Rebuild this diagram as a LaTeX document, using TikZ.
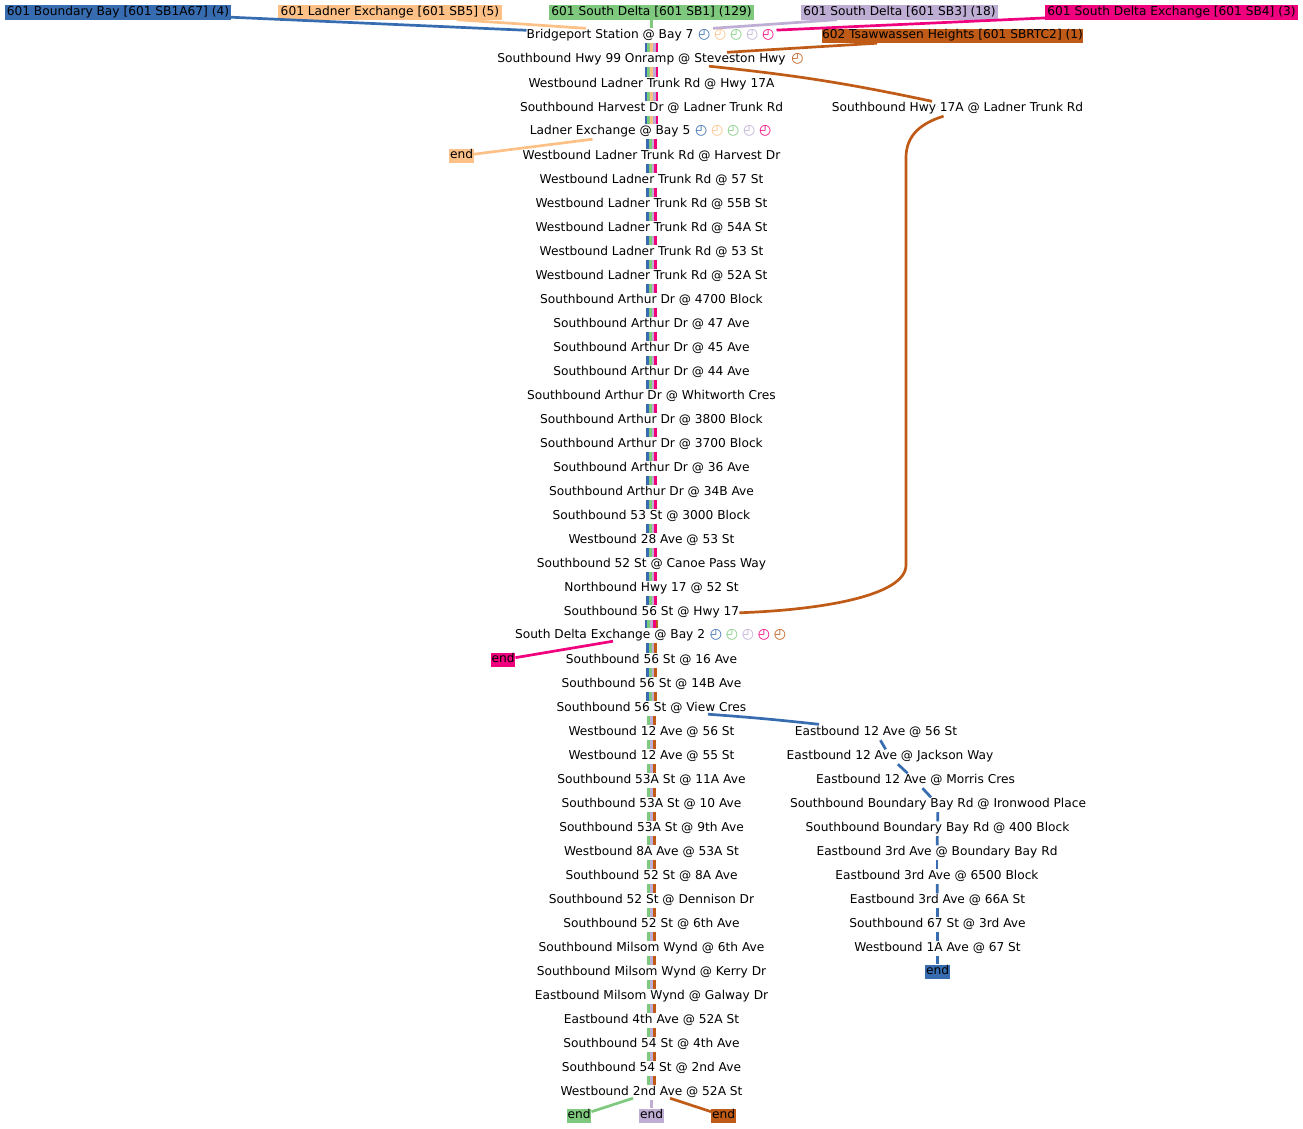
\documentclass[tikz,border=0pt]{standalone}
\usepackage{fontspec}
\setmainfont{DejaVu Sans}
\definecolor{routeblue}{HTML}{386CB0}
\definecolor{routegreen}{HTML}{7FC97F}
\definecolor{routepeach}{HTML}{FDC086}
\definecolor{routepurple}{HTML}{BEAED4}
\definecolor{routepink}{HTML}{F0027F}
\definecolor{routebrown}{HTML}{BF5B17}
\newcommand{\clockmark}[1]{\makebox[16pt]{\textcolor{#1}{\fontsize{14pt}{14pt}\selectfont ◴}}}
\newcommand{\clocksbay}{\hspace{-1pt}\clockmark{routeblue}\clockmark{routepeach}\clockmark{routegreen}\clockmark{routepurple}\clockmark{routepink}}
\newcommand{\clocksdelta}{\hspace{-1pt}\clockmark{routeblue}\clockmark{routegreen}\clockmark{routepurple}\clockmark{routepink}\clockmark{routebrown}}
\tikzset{
  stopbox/.style = {inner xsep = 0pt, inner ysep = 0pt, text height = 10pt, text depth = 4.5pt, font = \fontsize{12.2pt}{14pt}\selectfont},
  routebox/.style = {stopbox, fill = #1},
  endbox/.style = {routebox = #1, minimum width = 24.5pt},
  routeline/.style = {line width = 2.7pt, draw = #1},
  stripe/.style = {line width = 2.7pt, draw = #1}
}
\newcommand{\trunkpart}[4]{
  \foreach \c [count = \n] in {#4} {
    \pgfmathsetmacro{\dx}{(\n-(#3+1)/2)*2.7}
    \draw[stripe = \c] ([xshift = \dx pt]#1.south) -- ([xshift = \dx pt]#2.north);
  }
}
\begin{document}
\begin{tikzpicture}[x = 1pt, y = 1pt]
        \useasboundingbox (0,0) rectangle (1303,-1128);
        \foreach \y/\txt [count = \i] in {
            34/{Bridgeport Station @ Bay 7 \clocksbay},
            58/{Southbound Hwy 99 Onramp @ Steveston Hwy \clockmark{routebrown}},
            83/Westbound Ladner Trunk Rd @ Hwy 17A,
            107/Southbound Harvest Dr @ Ladner Trunk Rd,
            130/{Ladner Exchange @ Bay 5 \clocksbay},
            155/Westbound Ladner Trunk Rd @ Harvest Dr,
            179/Westbound Ladner Trunk Rd @ 57 St,
            203/Westbound Ladner Trunk Rd @ 55B St,
            227/Westbound Ladner Trunk Rd @ 54A St,
            251/Westbound Ladner Trunk Rd @ 53 St,
            275/Westbound Ladner Trunk Rd @ 52A St,
            299/Southbound Arthur Dr @ 4700 Block,
            323/Southbound Arthur Dr @ 47 Ave,
            347/Southbound Arthur Dr @ 45 Ave,
            371/Southbound Arthur Dr @ 44 Ave,
            395/Southbound Arthur Dr @ Whitworth Cres,
            419/Southbound Arthur Dr @ 3800 Block,
            443/Southbound Arthur Dr @ 3700 Block,
            467/Southbound Arthur Dr @ 36 Ave,
            491/Southbound Arthur Dr @ 34B Ave,
            515/Southbound 53 St @ 3000 Block,
            539/Westbound 28 Ave @ 53 St,
            563/Southbound 52 St @ Canoe Pass Way,
            587/Northbound Hwy 17 @ 52 St,
            611/Southbound 56 St @ Hwy 17,
            634/{South Delta Exchange @ Bay 2 \clocksdelta},
            659/Southbound 56 St @ 16 Ave,
            683/Southbound 56 St @ 14B Ave,
            707/Southbound 56 St @ View Cres,
            731/Westbound 12 Ave @ 56 St,
            755/Westbound 12 Ave @ 55 St,
            779/Southbound 53A St @ 11A Ave,
            803/Southbound 53A St @ 10 Ave,
            827/Southbound 53A St @ 9th Ave,
            851/Westbound 8A Ave @ 53A St,
            875/Southbound 52 St @ 8A Ave,
            899/Southbound 52 St @ Dennison Dr,
            923/Southbound 52 St @ 6th Ave,
            947/Southbound Milsom Wynd @ 6th Ave,
            971/Southbound Milsom Wynd @ Kerry Dr,
            995/Eastbound Milsom Wynd @ Galway Dr,
            1019/Eastbound 4th Ave @ 52A St,
            1043/Southbound 54 St @ 4th Ave,
            1067/Southbound 54 St @ 2nd Ave,
            1091/Westbound 2nd Ave @ 52A St} {
          \node[stopbox] (stop\i) at (651.5,-\y-1.75) {\txt};
        }
        \foreach \x/\y/\txt [count = \i] in {
            876/731/Eastbound 12 Ave @ 56 St,
            890/755/Eastbound 12 Ave @ Jackson Way,
            915.5/779/Eastbound 12 Ave @ Morris Cres,
            938/803/Southbound Boundary Bay Rd @ Ironwood Place,
            937.5/827/Southbound Boundary Bay Rd @ 400 Block,
            937/851/Eastbound 3rd Ave @ Boundary Bay Rd,
            937/875/Eastbound 3rd Ave @ 6500 Block,
            937.5/899/Eastbound 3rd Ave @ 66A St,
            937.5/923/Southbound 67 St @ 3rd Ave,
            937.5/947/Westbound 1A Ave @ 67 St} {
          \node[stopbox] (east\i) at (\x,-\y-1.75) {\txt};
        }
        \node[stopbox] (hwyspur) at (957.5,-108.75) {Southbound Hwy 17A @ Ladner Trunk Rd};
        \node[routebox = routeblue, minimum width = 226pt] (routeboundary) at (118,-12.25) {601 Boundary Bay [601 SB1A67] (4)};
        \node[routebox = routepeach, minimum width = 224pt] (routeladner) at (390,-12.25) {601 Ladner Exchange [601 SB5] (5)};
        \node[routebox = routegreen, minimum width = 205pt] (routesbone) at (651.5,-12.25) {601 South Delta [601 SB1] (129)};
        \node[routebox = routepurple, minimum width = 197pt] (routesbthree) at (899.5,-12.25) {601 South Delta [601 SB3] (18)};
        \node[routebox = routepink, minimum width = 253pt] (routesbfour) at (1171.5,-12.25) {601 South Delta Exchange [601 SB4] (3)};
        \node[routebox = routebrown, minimum width = 261pt] (routetsa) at (952.5,-35.75) {602 Tsawwassen Heights [601 SBRTC2] (1)};
        \node[endbox = routepeach] (endladner) at (461.5,-155.75) {end};
        \node[endbox = routepink] (endexchange) at (503,-659.75) {end};
        \node[endbox = routeblue] (endeast) at (937.5,-971.75) {end};
        \node[endbox = routegreen] (endsbone) at (579,-1115.75) {end};
        \node[endbox = routepurple] (endsbthree) at (651.5,-1115.75) {end};
        \node[endbox = routebrown] (endtsa) at (723.5,-1115.75) {end};
        \foreach \i [evaluate = \i as \j using int(\i+1)] in {1,...,4} {
          \trunkpart{stop\i}{stop\j}{5}{routeblue,routegreen,routepeach,routepurple,routepink}
        }
        \foreach \i [evaluate = \i as \j using int(\i+1)] in {5,...,24} {
          \trunkpart{stop\i}{stop\j}{4}{routeblue,routegreen,routepurple,routepink}
        }
        \trunkpart{stop25}{stop26}{5}{routeblue,routegreen,routepurple,routepink,routebrown}
        \foreach \i [evaluate = \i as \j using int(\i+1)] in {26,27,28} {
          \trunkpart{stop\i}{stop\j}{4}{routeblue,routegreen,routepurple,routebrown}
        }
        \foreach \i [evaluate = \i as \j using int(\i+1)] in {29,...,44} {
          \trunkpart{stop\i}{stop\j}{3}{routegreen,routepurple,routebrown}
        }
        \foreach \from/\to/\c in {
            routeboundary/stop1/routeblue,
            routesbone/stop1/routegreen,
            routesbfour/stop1/routepink,
            stop5/endladner/routepeach,
            east1/east2/routeblue,
            east2/east3/routeblue,
            east3/east4/routeblue,
            east4/east5/routeblue,
            east5/east6/routeblue,
            east6/east7/routeblue,
            east7/east8/routeblue,
            east8/east9/routeblue,
            east9/east10/routeblue,
            east10/endeast/routeblue,
            stop45/endsbthree/routepurple} {
          \draw[routeline = \c] (\from) -- (\to);
        }
        \foreach \from/\dxa/\to/\dxb/\c in {
            routeladner/67/stop1/-65.5/routepeach,
            routesbthree/-62.5/stop1/61.5/routepurple,
            routetsa/-75.5/stop2/75.5/routebrown} {
          \draw[routeline = \c] ([xshift = \dxa pt]\from.south) -- ([xshift = \dxb pt]\to.north);
        }
        \foreach \from/\dxa/\to/\c in {
            stop26/-38.5/endexchange/routepink,
            stop45/-18.5/endsbone/routegreen,
            stop45/18.5/endtsa/routebrown} {
          \draw[routeline = \c] ([shift = {(\dxa pt,2pt)}]\from.south) -- (\to);
        }
        \draw[routeline = routebrown] ([shift = {(57.5pt,1pt)}]stop2.south) to[bend left = 3] ([xshift = -25.5pt]hwyspur.north);
        \draw[routeline = routeblue] ([shift = {(56.5pt,2pt)}]stop29.south) to[bend left = 1] ([shift = {(-57pt,1pt)}]east1.north);
        \coordinate (spurtop) at (906,-158);
        \coordinate (spurbottom) at (906,-565);
        \draw[routeline = routebrown] ([xshift = -14pt]hwyspur.south) .. controls (915,-125) and (906,-140) .. (spurtop) -- (spurbottom) .. controls (906,-596) and (820,-610) .. (stop25.east);
      \end{tikzpicture}
\end{document}
